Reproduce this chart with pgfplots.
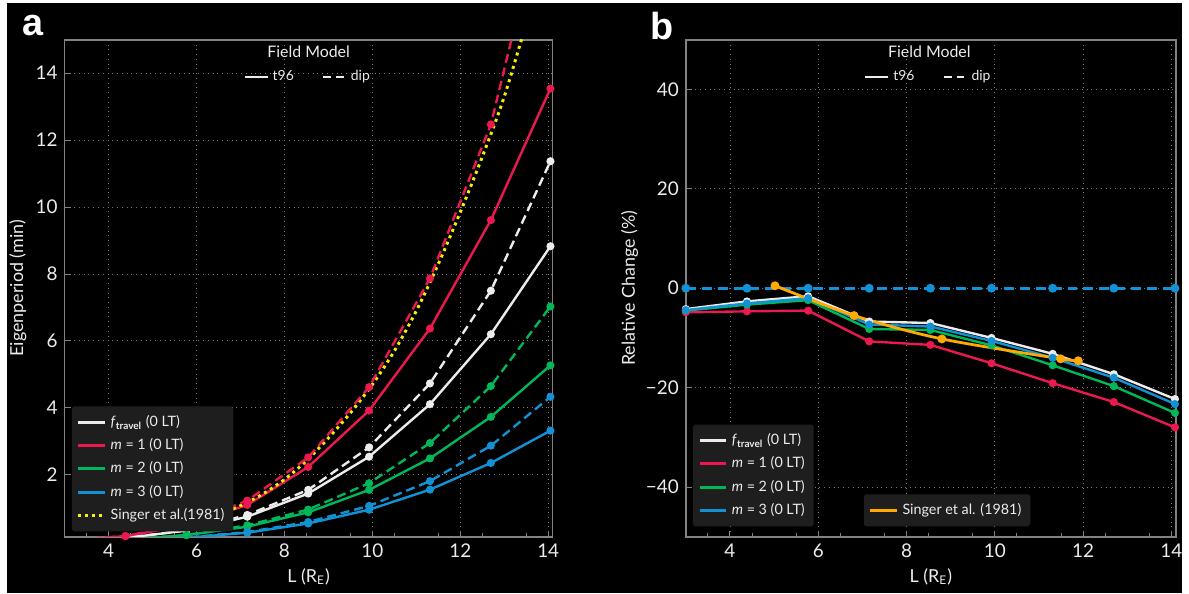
\documentclass[border=0pt]{standalone}
\usepackage{fontspec}
\setmainfont{Lato}
\newfontfamily\panelfont{Liberation Sans}
\usepackage{pgfplots}
\pgfplotsset{compat=1.18}
\definecolor{cwhite}{RGB}{236,236,236}
\definecolor{cred}{RGB}{236,24,80}
\definecolor{cgreen}{RGB}{0,184,90}
\definecolor{cblue}{RGB}{18,146,212}
\definecolor{cyellow}{RGB}{245,240,0}
\definecolor{corange}{RGB}{255,170,0}
\definecolor{cgrid}{RGB}{125,125,125}
\definecolor{cframe}{RGB}{130,130,130}
\definecolor{clegend}{RGB}{30,30,30}
\pgfplotsset{
  darkax/.style={
    scale only axis, width=245.5pt, height=250pt,
    axis line style={cframe, line width=0.8pt},
    tick style={cframe, line width=0.5pt},
    major tick length=3pt, minor tick length=2pt,
    tick align=inside, xtick pos=bottom, ytick pos=left,
    grid=major, major grid style={cgrid, dotted, line width=0.45pt},
    ticklabel style={font=\fontsize{9.5}{10}\selectfont, text=cwhite},
    label style={font=\fontsize{9}{10}\selectfont, text=cwhite},
    /pgf/number format/assume math mode=true,
    xmin=3, xmax=14.1, xtick={4,6,...,14}, minor xtick={3.5,4.5,...,14},
    xlabel={L (R\textsubscript{E})},
    xlabel style={at={(axis description cs:0.5,-0.08)}, anchor=center},
    legend cell align=left,
    legend style={fill=clegend, draw=none, text=cwhite, font=\fontsize{7.2}{8.5}\selectfont,
      rounded corners=1pt, row sep=0.6pt, inner sep=2.5pt},
    legend image code/.code={\draw[#1, line width=1.5pt] (0pt,0pt) -- (13.5pt,0pt);},
  },
  fmax/.style={
    scale only axis, width=245.5pt, height=250pt, hide axis,
    xmin=0, xmax=1, ymin=0, ymax=1,
    legend columns=2,
    legend style={draw=none, fill=none, text=cwhite, font=\fontsize{7}{8}\selectfont,
      /tikz/every even column/.append style={column sep=12pt}},
    legend image code/.code={\draw[#1] (0pt,0pt) -- (11.5pt,0pt);},
  },
  sol/.style={line width=1.2pt, mark=*, mark size=1.4pt},
  das/.style={line width=1.2pt, mark=*, mark size=1.4pt, dash pattern=on 4.5pt off 2.5pt, mark options={solid}},
}
\begin{document}
\begin{tikzpicture}
\fill[white] (0,0) rectangle (594.5pt,298.5pt);
\fill[black] (3.5pt,0) rectangle (594.5pt,297pt);
\node[font=\panelfont\bfseries\fontsize{19}{19}\selectfont, text=white] at (16.5pt,285.5pt) {a};
\node[font=\panelfont\bfseries\fontsize{19}{19}\selectfont, text=white] at (333pt,285.5pt) {b};

% ---------------- panel a ----------------
\begin{axis}[darkax, at={(32.5pt,28.5pt)}, anchor=south west,
  ymin=0.15, ymax=15, ytick={2,4,...,14},
  ylabel={Eigenperiod (min)},
  ylabel style={at={(axis description cs:-0.096,0.5)}, anchor=center, rotate=0},
  legend style={at={(0.014,0.01)}, anchor=south west}]
\addplot[cwhite, sol] coordinates {(3.00,0.024)(4.385,0.111)(5.77,0.334)(7.155,0.747)(8.54,1.44)(9.925,2.54)(11.31,4.11)(12.695,6.20)(14.05,8.83)};
\addlegendentry{\textit{f}\textsubscript{\textbf{travel}} (0 LT)}
\addplot[cred, sol] coordinates {(3.00,0.036)(4.385,0.166)(5.77,0.497)(7.155,1.098)(8.54,2.233)(9.925,3.92)(11.31,6.37)(12.695,9.61)(14.05,13.54)};
\addlegendentry{\textit{m} = 1 (0 LT)}
\addplot[cgreen, sol] coordinates {(3.00,0.014)(4.385,0.065)(5.77,0.196)(7.155,0.45)(8.54,0.878)(9.925,1.549)(11.31,2.49)(12.695,3.73)(14.05,5.27)};
\addlegendentry{\textit{m} = 2 (0 LT)}
\addplot[cblue, sol] coordinates {(3.00,0.0086)(4.385,0.040)(5.77,0.120)(7.155,0.269)(8.54,0.545)(9.925,0.957)(11.31,1.557)(12.695,2.353)(14.05,3.32)};
\addlegendentry{\textit{m} = 3 (0 LT)}
\addplot[cyellow, line width=1.5pt, dash pattern=on 1.5pt off 2pt, smooth] coordinates {(5.0,0.35)(5.5,0.47)(6.0,0.62)(6.5,0.82)(7.0,1.08)(7.5,1.42)(8.0,1.86)(8.5,2.42)(9.0,3.1)(9.5,3.85)(10.0,4.7)(10.5,5.7)(11.0,6.9)(11.5,8.3)(12.0,9.85)(12.5,11.5)(13.0,13.3)(13.5,15.5)};
\addlegendentry{Singer et al.(1981)}
\addplot[cwhite, das, forget plot] coordinates {(3.00,0.025)(4.385,0.114)(5.77,0.34)(7.155,0.80)(8.54,1.55)(9.925,2.82)(11.31,4.73)(12.695,7.50)(14.05,11.37)};
\addplot[cred, das, forget plot] coordinates {(3.00,0.038)(4.385,0.174)(5.77,0.52)(7.155,1.23)(8.54,2.52)(9.925,4.62)(11.31,7.87)(12.695,12.47)(14.05,19.8)};
\addplot[cgreen, das, forget plot] coordinates {(3.00,0.015)(4.385,0.067)(5.77,0.20)(7.155,0.49)(8.54,0.96)(9.925,1.75)(11.31,2.95)(12.695,4.65)(14.05,7.03)};
\addplot[cblue, das, forget plot] coordinates {(3.00,0.009)(4.385,0.041)(5.77,0.123)(7.155,0.29)(8.54,0.59)(9.925,1.07)(11.31,1.81)(12.695,2.87)(14.05,4.33)};
\end{axis}
\begin{axis}[fmax, at={(32.5pt,28.5pt)}, anchor=south west,
  legend style={at={(0.5,0.955)}, anchor=north}]
\addlegendimage{cwhite, line width=1.2pt}
\addlegendentry{t96}
\addlegendimage{cwhite, line width=1.2pt, dash pattern=on 4pt off 2.5pt}
\addlegendentry{dip}
\node[text=cwhite, font=\fontsize{8}{9}\selectfont] at (axis cs:0.5,0.976) {Field Model};
\end{axis}

% ---------------- panel b ----------------
\begin{axis}[darkax, at={(345pt,28.5pt)}, anchor=south west, width=246.5pt,
  ymin=-50, ymax=50, ytick={-40,-20,0,20,40}, yticklabels={−40,−20,0,20,40},
  ylabel={Relative Change (\%)},
  ylabel style={at={(axis description cs:-0.115,0.5)}, anchor=center, rotate=0},
  legend style={at={(0.014,0.02)}, anchor=south west}]
\addplot[cwhite, sol] coordinates {(3.00,-4.2)(4.385,-2.65)(5.77,-1.6)(7.155,-6.7)(8.54,-7.0)(9.925,-10.0)(11.31,-13.2)(12.695,-17.3)(14.08,-22.3)};
\addlegendentry{\textit{f}\textsubscript{\textbf{travel}} (0 LT)}
\addplot[cred, sol] coordinates {(3.00,-4.85)(4.385,-4.65)(5.77,-4.5)(7.155,-10.7)(8.54,-11.4)(9.925,-15.1)(11.31,-19.1)(12.695,-22.9)(14.08,-28.0)};
\addlegendentry{\textit{m} = 1 (0 LT)}
\addplot[cgreen, sol] coordinates {(3.00,-4.5)(4.385,-3.3)(5.77,-2.4)(7.155,-8.2)(8.54,-8.4)(9.925,-11.5)(11.31,-15.5)(12.695,-19.7)(14.08,-25.1)};
\addlegendentry{\textit{m} = 2 (0 LT)}
\addplot[cblue, sol] coordinates {(3.00,-4.4)(4.385,-3.05)(5.77,-2.0)(7.155,-7.3)(8.54,-7.7)(9.925,-10.6)(11.31,-14.0)(12.695,-18.0)(14.08,-23.3)};
\addlegendentry{\textit{m} = 3 (0 LT)}
\addplot[cblue, line width=1.4pt, mark=*, mark size=1.5pt, dash pattern=on 5pt off 3pt, mark options={solid}, forget plot] coordinates {(3.00,0)(4.385,0)(5.77,0)(7.155,0)(8.54,0)(9.925,0)(11.31,0)(12.695,0)(14.08,0)};
\addplot[corange, line width=1.4pt, mark=*, mark size=1.5pt, smooth, tension=0.5, forget plot] coordinates {(5.02,0.5)(6.81,-5.5)(8.80,-10.2)(11.49,-14.2)(11.89,-14.6)};
\end{axis}
\begin{axis}[fmax, at={(345pt,28.5pt)}, anchor=south west, width=246.5pt,
  legend style={at={(0.497,0.955)}, anchor=north}]
\addlegendimage{cwhite, line width=1.2pt}
\addlegendentry{t96}
\addlegendimage{cwhite, line width=1.2pt, dash pattern=on 4pt off 2.5pt}
\addlegendentry{dip}
\node[text=cwhite, font=\fontsize{8}{9}\selectfont] at (axis cs:0.497,0.976) {Field Model};
\end{axis}
\begin{axis}[fmax, at={(345pt,28.5pt)}, anchor=south west, width=246.5pt,
  legend columns=1,
  legend style={at={(0.533,0.02)}, anchor=south, fill=clegend, rounded corners=1pt, inner sep=2.5pt, font=\fontsize{7.2}{8.5}\selectfont},
  legend image code/.code={\draw[#1, line width=1.5pt] (0pt,0pt) -- (13.5pt,0pt);}]
\addlegendimage{corange}
\addlegendentry{Singer et al. (1981)}
\end{axis}
\end{tikzpicture}
\end{document}
